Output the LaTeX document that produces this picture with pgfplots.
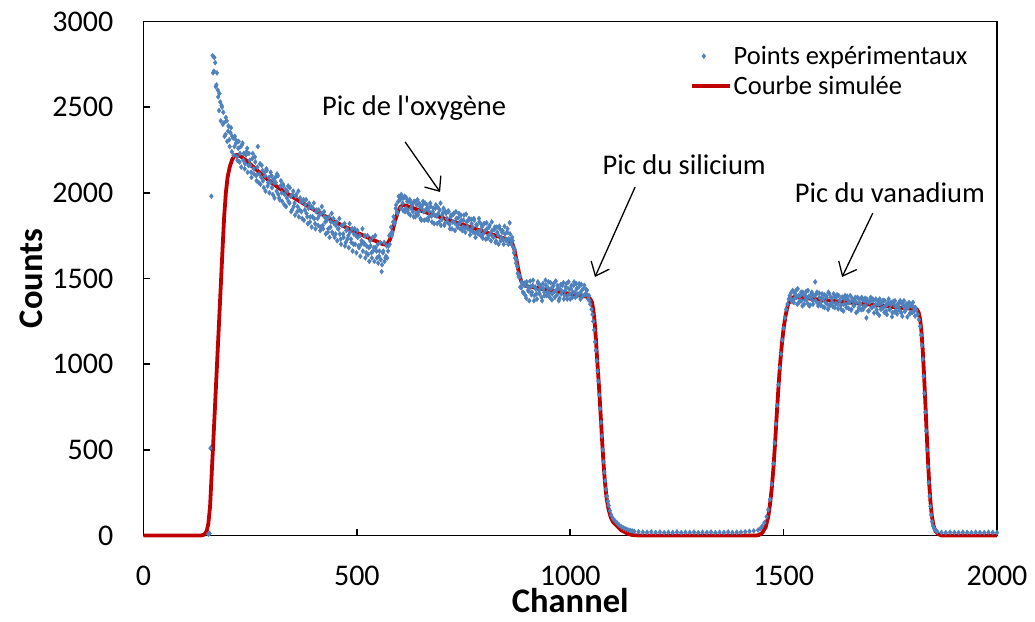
\documentclass[border=0pt]{standalone}
\usepackage{fontspec}
\setmainfont{Carlito}
\usepackage{pgfplots}
\pgfplotsset{compat=1.18}
\usetikzlibrary{arrows.meta}
\definecolor{ptblue}{HTML}{4F81BD}
\definecolor{simred}{HTML}{C00000}
\pgfplotsset{
  ptleg/.style={legend image code/.code={\path (0pt,0pt) (38pt,0pt); \draw[##1] plot coordinates {(12pt,0pt)};}},
  lnleg/.style={legend image code/.code={\draw[##1] (0pt,0pt) -- (38pt,0pt);}},
  pts/.style={only marks, mark=diamond*, mark size=2.5pt, color=ptblue},
}

\begin{document}
\begin{tikzpicture}
\begin{axis}[
    scale only axis,
    width=853.5pt, height=514pt,
    xmin=0, xmax=2000, ymin=0, ymax=3000,
    clip=false,
    xtick={0,500,...,2000},
    ytick={0,500,...,3000},
    tick pos=left,
    tick align=inside,
    major tick length=7pt,
    axis line style={line width=1.6pt},
    every tick/.style={black, line width=1.6pt},
    /pgf/number format/1000 sep={},
    /pgf/number format/assume math mode=true,
    tick label style={font=\fontsize{30}{36}\selectfont, inner sep=0pt},
    xticklabel shift=30pt,
    yticklabel shift=30pt,
    xlabel={Channel},
    ylabel={Counts},
    label style={font=\fontsize{34.5}{40}\selectfont\bfseries, inner sep=0pt},
    xlabel style={at={(axis description cs:0.5,-0.127)}, anchor=center},
    ylabel style={at={(axis description cs:-0.132,0.5)}, anchor=center},
    legend style={draw=none, fill=none, at={(rel axis cs:0.640,0.956)},
        anchor=north west, font=\fontsize{26.5}{30}\selectfont,
        row sep=6pt, inner sep=0pt, cells={anchor=west},
        nodes={inner sep=2pt}},
]
\coordinate (o) at (rel axis cs:0,0);

% points experimentaux (1)
\addplot[pts, ptleg]
coordinates {
(152,8)(155,12)(157,510)(159,1980)
(162,2800)(165,2710)(168,2760)(171,2630)(174,2600)(177,2480)(180,2530)(183,2510)(186,2400)(189,2410)(192,2340)(195,2420)(198,2360)(201,2310)(204,2350)(207,2240)(210,2320)(213,2270)(216,2310)(219,2210)(222,2260)(225,2180)(228,2270)(231,2280)(234,2190)(237,2140)(240,2220)(243,2260)(246,2160)(249,2190)(252,2120)(255,2200)(258,2140)(261,2210)(264,2100)(267,2150)(270,2060)(273,2170)(276,2090)(279,2130)(282,2030)(285,2100)(288,2140)(291,2040)(294,2090)(297,2060)(300,2100)(303,1990)(306,2060)(309,2090)(312,2010)(315,2100)(318,1970)(321,2040)(324,2000)(327,2050)(330,1930)(333,2020)(336,1970)(339,2040)(342,1940)(345,1980)(348,1900)(351,2010)(354,1940)(357,1980)(360,1890)(363,2010)(366,1900)(369,1950)(372,1850)(375,1960)(378,1900)(381,1960)(384,1860)(387,1910)(390,1830)(393,1920)(396,1860)(399,1940)(402,1820)(405,1890)(408,1850)(411,1900)(414,1780)(417,1880)(420,1810)(423,1890)(426,1830)(429,1850)(432,1770)(435,1860)(438,1800)(441,1880)(444,1760)(447,1820)(450,1760)(453,1830)(456,1790)(459,1850)(462,1730)(465,1810)(468,1760)(471,1820)(474,1710)(477,1790)(480,1750)(483,1820)(486,1730)(489,1790)(492,1700)(495,1790)(498,1750)(501,1780)(504,1690)(507,1750)(510,1700)(513,1790)(516,1710)(519,1750)(522,1650)(525,1750)(528,1680)(531,1720)(534,1650)(537,1740)(540,1680)(543,1750)(546,1660)(549,1700)(552,1630)(555,1710)(558,1540)(561,1650)(564,1710)(567,1620)(570,1690)(573,1660)(576,1750)(579,1760)(582,1750)(585,1830)(588,1820)(591,1910)(594,1890)(597,1950)(600,1975)(603,1910)(606,1970)(609,1895)
(612,1980)(615,1910)(618,1950)(621,1880)(624,1960)(627,1910)(630,1930)(633,1860)(636,1950)(639,1880)(642,1960)(645,1890)(648,1920)(651,1840)(654,1930)(657,1890)(660,1940)(663,1845)(666,1910)(669,1860)(672,1940)(675,1865)(678,1890)(681,1820)(684,1910)(687,1865)(690,1915)(693,1830)(696,1940)(699,1845)(702,1885)(705,1810)(708,1890)(711,1850)(714,1895)(717,1815)(720,1860)(723,1790)(726,1875)(729,1825)(732,1890)(735,1810)(738,1855)(741,1825)(744,1870)(747,1780)(750,1840)(753,1795)(756,1875)(759,1800)(762,1840)(765,1755)(768,1845)(771,1800)(774,1850)(777,1765)(780,1815)(783,1775)(786,1850)(789,1780)(792,1815)(795,1735)(798,1820)(801,1780)(804,1825)(807,1735)(810,1800)(813,1760)(816,1830)(819,1745)(822,1785)(825,1710)(828,1800)(831,1755)(834,1805)(837,1720)(840,1770)(843,1725)(846,1805)(849,1730)(852,1770)(855,1700)(858,1825)(861,1720)(864,1740)(867,1680)(870,1670)(873,1590)(876,1570)(879,1510)(882,1510)(885,1445)(888,1470)
(891,1415)(894,1475)(897,1385)(900,1455)(903,1425)(906,1485)(909,1405)(912,1460)(915,1370)(918,1450)(921,1410)(924,1480)(927,1430)(930,1460)(933,1390)(936,1470)(939,1420)(942,1490)(945,1400)(948,1445)(951,1415)(954,1475)(957,1375)(960,1455)(963,1425)(966,1485)(969,1405)(972,1445)(975,1385)(978,1465)(981,1425)(984,1475)(987,1400)(990,1450)(993,1380)(996,1480)(999,1410)(1002,1440)(1005,1390)(1008,1460)(1011,1420)(1014,1470)(1017,1400)(1020,1450)(1023,1415)(1026,1465)(1029,1395)(1032,1445)(1035,1405)(1038,1435)(1041,1400)(1044,1400)(1047,1350)(1050,1320)
(1052,1290)(1054,1250)(1056,1200)(1058,1130)(1060,1080)(1062,1020)(1064,960)(1066,900)(1068,820)(1070,740)(1072,660)(1074,580)(1076,500)(1078,430)(1080,370)(1082,320)(1084,270)(1086,230)(1088,200)(1090,175)(1093,145)(1096,120)(1100,100)(1105,85)(1110,72)(1115,60)(1120,50)(1125,44)(1130,38)(1135,33)(1140,30)(1145,27)(1150,24)(1160,22)(1170,20)(1180,19)(1190,21)(1200,18)(1210,20)(1220,17)(1230,19)(1240,18)(1250,21)(1260,17)(1270,19)(1280,18)(1290,20)(1300,17)(1310,19)(1320,18)(1330,20)(1340,17)(1350,19)(1360,18)(1370,21)(1380,18)(1390,19)(1400,20)(1410,22)(1420,24)(1430,27)(1440,32)
(1445,40)(1450,55)(1455,75)(1460,110)(1464,150)(1468,210)(1472,300)(1476,420)(1479,540)(1482,650)(1485,760)(1488,880)(1491,980)(1494,1060)(1497,1140)(1500,1210)(1503,1270)(1506,1320)(1509,1350)(1512,1380)(1514,1400)
(1517,1415)(1520,1365)(1523,1425)(1526,1385)(1529,1430)(1532,1350)(1535,1400)(1538,1370)(1541,1420)(1544,1340)(1547,1405)(1550,1375)(1553,1425)(1556,1355)(1559,1395)(1562,1345)(1565,1410)(1568,1370)(1571,1400)(1574,1480)(1577,1410)(1580,1355)(1583,1415)(1586,1345)(1589,1385)(1592,1335)(1595,1405)(1598,1360)(1601,1390)(1604,1320)(1607,1410)(1610,1350)(1613,1380)(1616,1335)(1619,1395)(1622,1355)(1625,1405)(1628,1323)(1631,1372)(1634,1342)(1637,1391)(1640,1310)(1643,1379)(1646,1348)(1649,1397)(1652,1326)(1655,1365)(1658,1315)(1661,1384)(1664,1343)(1667,1372)(1670,1301)(1673,1390)(1676,1329)(1679,1358)(1682,1318)(1685,1377)(1688,1336)(1691,1385)(1694,1270)(1697,1363)(1700,1312)(1703,1371)(1706,1331)(1709,1380)(1712,1299)(1715,1348)(1718,1317)(1721,1366)(1724,1285)(1727,1354)(1730,1324)(1733,1373)(1736,1302)(1739,1341)(1742,1290)(1745,1359)(1748,1318)(1751,1347)(1754,1277)(1757,1366)(1760,1305)(1763,1334)(1766,1293)(1769,1352)(1772,1311)(1775,1360)(1778,1280)(1781,1339)(1784,1308)(1787,1347)(1790,1276)(1793,1335)(1796,1294)(1799,1343)(1802,1303)(1805,1332)(1808,1281)(1811,1315)
(1814,1290)(1817,1260)(1820,1220)(1822,1170)(1824,1110)(1826,1030)(1828,930)(1830,830)(1832,720)(1834,610)(1836,500)(1838,400)(1840,310)(1842,230)(1844,170)(1846,120)(1848,80)(1850,55)(1853,40)(1856,30)(1860,22)(1870,18)(1880,17)(1890,19)(1900,18)(1910,17)(1920,19)(1930,18)(1940,17)(1950,19)(1960,18)(1970,17)(1980,19)(1990,18)(2000,17)
};
\addlegendentry{Points expérimentaux}

% points experimentaux (2), canaux intermediaires
\addplot[pts, forget plot]
coordinates {
(163,2700)(166,2790)(169,2620)(172,2700)(175,2560)(178,2580)(181,2420)(184,2500)(187,2470)(190,2330)(193,2440)(196,2300)(199,2390)(202,2270)(205,2380)(208,2330)(211,2220)(214,2330)(217,2290)(220,2190)(223,2300)(226,2230)(229,2150)(232,2290)(235,2230)(238,2170)(241,2240)(244,2120)(247,2230)(250,2160)(253,2090)(256,2230)(259,2110)(262,2180)(265,2070)(268,2270)(271,2110)(274,2050)(277,2160)(280,2070)(283,2120)(286,2010)(289,2130)(292,2060)(295,2000)(298,2120)(301,2030)(304,2080)(307,1970)(310,2060)(313,2110)(316,1990)(319,1960)(322,2070)(325,1950)(328,2040)(331,1990)(334,1920)(337,2010)(340,1950)(343,2030)(346,1890)(349,1990)(352,1920)(355,1870)(358,1990)(361,1920)(364,1860)(367,1970)(370,1890)(373,1950)(376,1840)(379,1930)(382,1880)(385,1820)(388,1940)(391,1860)(394,1800)(397,1910)(400,1850)(403,1790)(406,1900)(409,1810)(412,1870)(415,1800)(418,1920)(421,1790)(424,1860)(427,1760)(430,1840)(433,1790)(436,1740)(439,1830)(442,1770)(445,1850)(448,1740)(451,1810)(454,1720)(457,1790)(460,1760)(463,1700)(466,1810)(469,1740)(472,1690)(475,1780)(478,1730)(481,1680)(484,1770)(487,1710)(490,1660)(493,1760)(496,1700)(499,1650)(502,1740)(505,1680)(508,1630)(511,1720)(514,1660)(517,1700)(520,1620)(523,1690)(526,1640)(529,1600)(532,1690)(535,1620)(538,1660)(541,1600)(544,1680)(547,1620)(550,1590)(553,1660)(556,1610)(559,1580)(562,1660)(565,1600)(568,1630)(571,1620)(574,1690)(577,1700)(580,1800)(583,1770)(586,1860)(589,1830)(592,1930)(595,1880)(598,1980)(601,1960)(604,1990)(607,1940)(610,1970)
(613,1890)(616,1970)(619,1900)(622,1950)(625,1870)(628,1940)(631,1890)(634,1950)(637,1860)(640,1930)(643,1870)(646,1940)(649,1850)(652,1910)(655,1950)(658,1840)(661,1900)(664,1930)(667,1840)(670,1890)(673,1920)(676,1830)(679,1910)(682,1870)(685,1930)(688,1820)(691,1880)(694,1900)(697,1810)(700,1870)(703,1910)(706,1820)(709,1880)(712,1830)(715,1890)(718,1790)(721,1870)(724,1830)(727,1880)(730,1780)(733,1850)(736,1800)(739,1880)(742,1790)(745,1840)(748,1800)(751,1870)(754,1770)(757,1830)(760,1790)(763,1850)(766,1780)(769,1820)(772,1770)(775,1840)(778,1740)(781,1810)(784,1760)(787,1830)(790,1750)(793,1800)(796,1760)(799,1820)(802,1730)(805,1790)(808,1750)(811,1810)(814,1720)(817,1780)(820,1740)(823,1800)(826,1720)(829,1770)(832,1700)(835,1790)(838,1740)(841,1780)(844,1700)(847,1760)(850,1720)(853,1790)(856,1730)(859,1760)(862,1700)(865,1720)(868,1650)(871,1620)(874,1610)(877,1530)(880,1520)(883,1450)(886,1480)(889,1420)
(892,1460)(895,1400)(898,1480)(901,1430)(904,1370)(907,1450)(910,1420)(913,1490)(916,1400)(919,1440)(922,1380)(925,1470)(928,1410)(931,1450)(934,1370)(937,1440)(940,1400)(943,1460)(946,1420)(949,1480)(952,1390)(955,1440)(958,1410)(961,1470)(964,1390)(967,1430)(970,1460)(973,1370)(976,1440)(979,1410)(982,1460)(985,1380)(988,1430)(991,1470)(994,1400)(997,1440)(1000,1380)(1003,1460)(1006,1420)(1009,1480)(1012,1390)(1015,1440)(1018,1410)(1021,1470)(1024,1380)(1027,1430)(1030,1400)(1033,1460)(1036,1410)(1039,1430)(1042,1380)(1045,1370)
(1518,1380)(1521,1430)(1524,1360)(1527,1410)(1530,1390)(1533,1440)(1536,1360)(1539,1400)(1542,1370)(1545,1420)(1548,1350)(1551,1400)(1554,1380)(1557,1430)(1560,1340)(1563,1390)(1566,1420)(1569,1350)(1572,1400)(1575,1370)(1578,1420)(1581,1340)(1584,1390)(1587,1360)(1590,1410)(1593,1380)(1596,1330)(1599,1400)(1602,1350)(1605,1420)(1608,1340)(1611,1390)(1614,1360)(1617,1410)(1620,1330)(1623,1390)(1626,1350)(1629,1400)(1632,1370)(1635,1320)(1638,1390)(1641,1350)(1644,1400)(1647,1330)(1650,1380)(1653,1360)(1656,1400)(1659,1320)(1662,1370)(1665,1340)(1668,1390)(1671,1360)(1674,1310)(1677,1380)(1680,1350)(1683,1390)(1686,1320)(1689,1370)(1692,1340)(1695,1380)(1698,1310)(1701,1360)(1704,1390)(1707,1330)(1710,1370)(1713,1340)(1716,1380)(1719,1300)(1722,1350)(1725,1380)(1728,1320)(1731,1360)(1734,1330)(1737,1370)(1740,1310)(1743,1350)(1746,1380)(1749,1320)(1752,1360)(1755,1300)(1758,1350)(1761,1370)(1764,1310)(1767,1350)(1770,1330)(1773,1370)(1776,1300)(1779,1350)(1782,1370)(1785,1320)(1788,1350)(1791,1330)(1794,1360)(1797,1300)(1800,1340)(1803,1360)(1806,1310)(1809,1330)
};

% courbe simulee
\addplot[simred, line width=3.8pt, line join=round, mark=none, lnleg]
coordinates {
(0,0)(135,0)(142,5)(148,25)(152,70)(156,170)(160,370)(165,620)(170,880)(175,1140)(180,1400)(185,1660)(189,1860)(193,2000)(197,2090)(202,2150)(208,2195)(214,2218)(220,2222)(228,2212)(240,2190)(260,2145)(280,2100)(300,2060)(325,2015)(350,1975)(375,1937)(400,1900)(425,1865)(450,1830)(475,1798)(500,1768)(525,1740)(545,1718)(558,1703)(566,1698)(572,1705)(578,1730)(584,1780)(590,1840)(596,1890)(602,1918)(608,1928)(615,1925)
(850,1730)(858,1722)(864,1705)(869,1670)(873,1620)(877,1570)(881,1520)(885,1485)(890,1465)(898,1455)(1036,1395)(1042,1390)(1047,1380)(1051,1360)(1054,1320)(1057,1250)(1060,1150)(1063,1030)(1066,920)(1069,800)(1072,670)(1075,540)(1078,420)(1081,320)(1085,220)(1090,150)(1095,105)(1100,80)(1110,55)(1120,30)(1135,10)(1145,3)(1160,0)
(1435,0)(1442,3)(1450,15)(1458,50)(1464,110)(1468,180)(1472,270)(1476,390)(1480,540)(1484,710)(1488,870)(1492,1010)(1496,1120)(1500,1210)(1505,1290)(1510,1345)(1516,1378)(1524,1392)(1812,1320)(1816,1305)(1820,1260)(1823,1190)(1826,1080)(1829,940)(1832,780)(1835,610)(1838,450)(1841,310)(1844,200)(1847,120)(1851,60)(1856,25)(1862,8)(1870,0)(2000,0)
};
\addlegendentry{Courbe simulée}

\begin{scope}[font=\fontsize{28.5}{34}\selectfont]
\node at (axis cs:634,2495) {Pic de l\textquotesingle oxygène};
\node at (axis cs:1267,2163) {Pic du silicium};
\node at (axis cs:1749,1999) {Pic du vanadium};
\end{scope}
\begin{scope}[line width=1.3pt, -{Straight Barb[length=12pt,width=20pt]}]
\draw (axis cs:613,2297) -- (axis cs:695,2005);
\draw (axis cs:1152,2034) -- (axis cs:1058,1509);
\draw (axis cs:1709,1882) -- (axis cs:1637,1509);
\end{scope}
\end{axis}
\path (o) ++(-143.5pt,-85.5pt) rectangle ++(1035pt,621pt);
\end{tikzpicture}
\end{document}
